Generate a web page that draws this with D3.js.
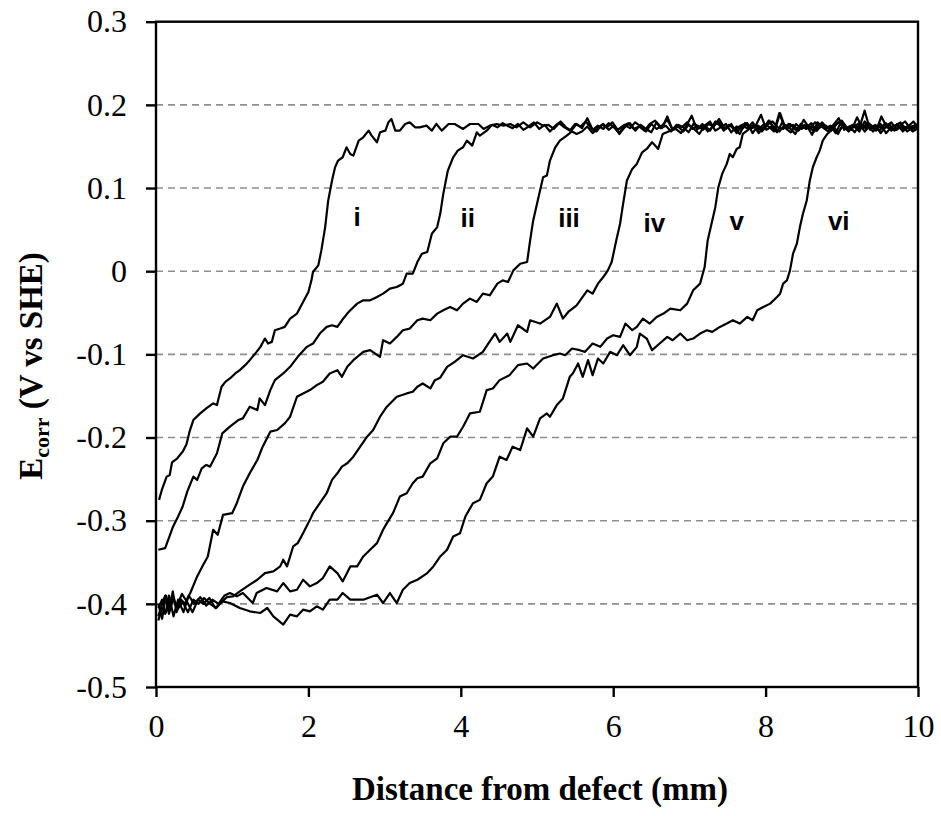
<!DOCTYPE html>
<html>
<head>
<meta charset="utf-8">
<title>Ecorr vs distance from defect</title>
<style>
  body { margin: 0; background: #fff; }
  svg { display: block; }
</style>
</head>
<body>
<svg width="941" height="816"></svg>
<script src="https://cdn.jsdelivr.net/npm/d3@7"></script>
<script>
// ticks
const xTicks = [0, 2, 4, 6, 8, 10]
const yTicks = [0.3, 0.2, 0.1, 0, -0.1, -0.2, -0.3, -0.4, -0.5]
const gridValues = [0.2, 0.1, 0, -0.1, -0.2, -0.3, -0.4]

// curve labels
const labelNames = ["i", "ii", "iii", "iv", "v", "vi"]
const labelX = [2.64, 4.09, 5.42, 6.54, 7.62, 8.96]
const labelY = [0.054, 0.053, 0.053, 0.047, 0.049, 0.050]

// rising part of each scan: [distance (mm), Ecorr (V)]
const riseI = [[0.04,-0.275],[0.08,-0.262],[0.14,-0.247],[0.18,-0.245],[0.21,-0.230],[0.28,-0.225],[0.35,-0.217],[0.40,-0.208],[0.44,-0.193],[0.49,-0.179],[0.58,-0.171],[0.66,-0.165],[0.75,-0.159],[0.80,-0.161],[0.86,-0.139],[0.91,-0.133],[0.97,-0.129],[1.04,-0.123],[1.10,-0.119],[1.17,-0.113],[1.23,-0.107],[1.32,-0.097],[1.37,-0.091],[1.43,-0.081],[1.47,-0.087],[1.52,-0.085],[1.56,-0.071],[1.63,-0.069],[1.69,-0.067],[1.76,-0.057],[1.85,-0.051],[1.93,-0.037],[2.00,-0.025],[2.04,-0.011],[2.06,-0.001],[2.13,0.007],[2.17,0.025],[2.22,0.053],[2.26,0.085],[2.31,0.109],[2.35,0.125],[2.39,0.133],[2.45,0.137],[2.50,0.149],[2.55,0.141],[2.59,0.139],[2.66,0.157],[2.72,0.161],[2.79,0.169],[2.83,0.163],[2.90,0.155],[2.94,0.167],[3.01,0.169],[3.05,0.179],[3.09,0.183],[3.14,0.169],[3.20,0.169],[3.27,0.177],[3.33,0.179],[3.40,0.173],[3.46,0.173],[3.55,0.175],[3.62,0.169],[3.68,0.177],[3.75,0.169],[3.84,0.177],[3.92,0.177],[4.03,0.171],[4.12,0.177],[4.23,0.177],[4.30,0.171],[4.38,0.175],[4.47,0.177],[4.56,0.175],[4.65,0.177],[4.73,0.173],[4.82,0.179],[4.91,0.173],[5.00,0.179],[5.08,0.175]]
const riseII = [[0.03,-0.335],[0.12,-0.333],[0.16,-0.323],[0.22,-0.308],[0.29,-0.295],[0.35,-0.283],[0.41,-0.265],[0.49,-0.247],[0.54,-0.251],[0.60,-0.237],[0.66,-0.233],[0.71,-0.235],[0.80,-0.219],[0.87,-0.195],[0.97,-0.187],[1.08,-0.179],[1.14,-0.177],[1.23,-0.163],[1.33,-0.167],[1.36,-0.153],[1.43,-0.161],[1.50,-0.143],[1.56,-0.131],[1.67,-0.123],[1.76,-0.115],[1.86,-0.103],[1.98,-0.091],[2.06,-0.087],[2.15,-0.075],[2.24,-0.067],[2.31,-0.065],[2.38,-0.067],[2.44,-0.059],[2.51,-0.051],[2.55,-0.047],[2.64,-0.039],[2.72,-0.035],[2.81,-0.035],[2.90,-0.031],[2.98,-0.027],[3.07,-0.021],[3.16,-0.019],[3.24,-0.015],[3.29,-0.003],[3.37,-0.003],[3.43,0.011],[3.49,0.021],[3.56,0.023],[3.62,0.045],[3.69,0.053],[3.73,0.069],[3.77,0.093],[3.83,0.121],[3.90,0.137],[3.96,0.145],[4.03,0.149],[4.08,0.157],[4.15,0.151],[4.21,0.167],[4.25,0.163],[4.34,0.169],[4.41,0.176],[4.48,0.173],[4.55,0.178],[4.61,0.175]]
const riseIII = [[0.03,-0.400],[0.08,-0.418],[0.13,-0.390],[0.18,-0.405],[0.22,-0.385],[0.27,-0.410],[0.33,-0.395],[0.38,-0.400],[0.42,-0.392],[0.45,-0.387],[0.54,-0.367],[0.62,-0.353],[0.68,-0.343],[0.75,-0.311],[0.81,-0.317],[0.88,-0.293],[1.00,-0.291],[1.06,-0.279],[1.14,-0.259],[1.23,-0.243],[1.33,-0.227],[1.40,-0.211],[1.50,-0.193],[1.59,-0.191],[1.69,-0.183],[1.76,-0.175],[1.85,-0.151],[1.93,-0.147],[2.02,-0.143],[2.11,-0.137],[2.19,-0.133],[2.28,-0.123],[2.38,-0.119],[2.44,-0.127],[2.51,-0.115],[2.59,-0.107],[2.72,-0.097],[2.81,-0.095],[2.94,-0.103],[2.98,-0.083],[3.07,-0.087],[3.16,-0.079],[3.24,-0.071],[3.33,-0.069],[3.43,-0.059],[3.50,-0.057],[3.60,-0.059],[3.69,-0.051],[3.77,-0.047],[3.86,-0.043],[3.95,-0.047],[4.03,-0.039],[4.12,-0.033],[4.21,-0.037],[4.29,-0.027],[4.38,-0.029],[4.48,-0.015],[4.55,-0.011],[4.62,-0.013],[4.69,0.001],[4.78,0.009],[4.87,0.011],[4.91,0.037],[4.95,0.061],[5.01,0.085],[5.08,0.113],[5.13,0.115],[5.17,0.133],[5.24,0.149],[5.30,0.157],[5.39,0.163],[5.46,0.168],[5.52,0.165]]
const riseIV = [[0.03,-0.415],[0.08,-0.400],[0.12,-0.390],[0.17,-0.412],[0.22,-0.395],[0.28,-0.402],[0.34,-0.388],[0.41,-0.398],[0.48,-0.410],[0.55,-0.395],[0.62,-0.400],[0.70,-0.393],[0.78,-0.405],[0.86,-0.398],[0.93,-0.392],[1.01,-0.391],[1.10,-0.385],[1.23,-0.377],[1.33,-0.371],[1.43,-0.363],[1.54,-0.361],[1.63,-0.355],[1.67,-0.347],[1.72,-0.355],[1.80,-0.331],[1.86,-0.327],[1.93,-0.315],[2.02,-0.299],[2.06,-0.291],[2.15,-0.279],[2.24,-0.267],[2.31,-0.251],[2.38,-0.243],[2.44,-0.235],[2.51,-0.231],[2.59,-0.223],[2.68,-0.211],[2.77,-0.199],[2.85,-0.191],[2.94,-0.175],[3.03,-0.163],[3.16,-0.151],[3.29,-0.147],[3.37,-0.145],[3.43,-0.139],[3.50,-0.135],[3.60,-0.141],[3.66,-0.131],[3.73,-0.128],[3.82,-0.115],[3.92,-0.109],[4.03,-0.101],[4.16,-0.105],[4.29,-0.097],[4.36,-0.087],[4.45,-0.075],[4.51,-0.085],[4.61,-0.075],[4.65,-0.085],[4.75,-0.065],[4.87,-0.073],[4.91,-0.059],[5.04,-0.063],[5.17,-0.055],[5.26,-0.039],[5.34,-0.057],[5.41,-0.049],[5.52,-0.041],[5.66,-0.023],[5.73,-0.027],[5.80,-0.015],[5.87,-0.007],[5.93,0.001],[5.98,0.011],[6.04,0.037],[6.09,0.057],[6.13,0.081],[6.18,0.109],[6.25,0.123],[6.31,0.129],[6.38,0.143],[6.44,0.147],[6.51,0.155],[6.55,0.151],[6.59,0.147],[6.65,0.165],[6.75,0.169]]
const riseV = [[0.03,-0.420],[0.08,-0.405],[0.13,-0.410],[0.17,-0.390],[0.23,-0.415],[0.29,-0.395],[0.36,-0.410],[0.43,-0.390],[0.50,-0.400],[0.58,-0.392],[0.66,-0.402],[0.74,-0.395],[0.82,-0.400],[0.90,-0.390],[0.97,-0.387],[1.06,-0.391],[1.14,-0.387],[1.27,-0.399],[1.32,-0.387],[1.45,-0.381],[1.59,-0.385],[1.67,-0.375],[1.76,-0.385],[1.85,-0.383],[1.93,-0.371],[2.02,-0.379],[2.11,-0.375],[2.19,-0.369],[2.28,-0.355],[2.38,-0.363],[2.45,-0.373],[2.55,-0.355],[2.64,-0.355],[2.72,-0.343],[2.81,-0.335],[2.90,-0.327],[2.98,-0.311],[3.03,-0.303],[3.11,-0.291],[3.20,-0.271],[3.29,-0.267],[3.37,-0.255],[3.43,-0.249],[3.50,-0.247],[3.60,-0.231],[3.69,-0.225],[3.77,-0.207],[3.86,-0.199],[3.95,-0.199],[4.03,-0.187],[4.12,-0.171],[4.25,-0.169],[4.34,-0.143],[4.42,-0.141],[4.51,-0.131],[4.64,-0.125],[4.75,-0.113],[4.87,-0.111],[4.95,-0.117],[5.08,-0.105],[5.21,-0.101],[5.30,-0.099],[5.37,-0.101],[5.46,-0.093],[5.56,-0.095],[5.63,-0.097],[5.73,-0.087],[5.83,-0.091],[5.92,-0.081],[6.00,-0.077],[6.09,-0.079],[6.16,-0.063],[6.25,-0.071],[6.31,-0.067],[6.39,-0.057],[6.48,-0.063],[6.57,-0.055],[6.66,-0.051],[6.75,-0.045],[6.88,-0.047],[6.97,-0.039],[7.05,-0.023],[7.14,-0.015],[7.20,0.005],[7.24,0.037],[7.30,0.061],[7.34,0.077],[7.38,0.101],[7.43,0.117],[7.49,0.129],[7.53,0.141],[7.57,0.137],[7.62,0.147],[7.66,0.149],[7.70,0.165]]
const riseVI = [[0.03,-0.405],[0.08,-0.395],[0.12,-0.412],[0.17,-0.400],[0.22,-0.390],[0.28,-0.407],[0.35,-0.398],[0.42,-0.410],[0.49,-0.395],[0.56,-0.400],[0.63,-0.393],[0.71,-0.400],[0.79,-0.405],[0.87,-0.397],[0.97,-0.399],[1.10,-0.405],[1.23,-0.409],[1.37,-0.411],[1.46,-0.405],[1.54,-0.415],[1.67,-0.425],[1.76,-0.413],[1.85,-0.415],[1.93,-0.407],[2.02,-0.409],[2.11,-0.403],[2.19,-0.407],[2.28,-0.395],[2.38,-0.395],[2.45,-0.387],[2.55,-0.395],[2.72,-0.395],[2.90,-0.389],[2.98,-0.399],[3.07,-0.387],[3.16,-0.399],[3.24,-0.383],[3.33,-0.375],[3.43,-0.371],[3.56,-0.363],[3.64,-0.355],[3.73,-0.343],[3.82,-0.335],[3.90,-0.319],[3.99,-0.315],[4.06,-0.295],[4.16,-0.279],[4.25,-0.275],[4.34,-0.255],[4.42,-0.247],[4.51,-0.223],[4.60,-0.227],[4.68,-0.211],[4.78,-0.215],[4.87,-0.189],[4.95,-0.199],[5.04,-0.177],[5.13,-0.171],[5.17,-0.175],[5.26,-0.161],[5.34,-0.153],[5.43,-0.127],[5.47,-0.123],[5.54,-0.111],[5.60,-0.127],[5.67,-0.107],[5.73,-0.125],[5.80,-0.105],[5.87,-0.111],[5.96,-0.097],[6.05,-0.101],[6.13,-0.089],[6.22,-0.101],[6.31,-0.091],[6.35,-0.075],[6.44,-0.081],[6.51,-0.095],[6.61,-0.087],[6.71,-0.079],[6.78,-0.083],[6.88,-0.075],[6.97,-0.083],[7.05,-0.081],[7.14,-0.075],[7.23,-0.071],[7.30,-0.073],[7.40,-0.067],[7.49,-0.063],[7.57,-0.059],[7.66,-0.063],[7.76,-0.055],[7.83,-0.059],[7.89,-0.047],[7.97,-0.043],[8.06,-0.039],[8.15,-0.031],[8.19,-0.027],[8.23,-0.015],[8.28,-0.011],[8.32,0.001],[8.36,0.021],[8.41,0.033],[8.45,0.053],[8.49,0.069],[8.54,0.085],[8.58,0.109],[8.62,0.125],[8.67,0.137],[8.71,0.145],[8.75,0.157],[8.81,0.165]]

// plateau readings, sampled every 0.07 mm from plateauStart
const plateauStart = [5.15, 4.68, 5.59, 6.82, 7.77, 8.88]
const plateauStep = 0.07
const plateauI = [0.176,0.171,0.178,0.173,0.169,0.177,0.174,0.180,0.172,0.168,0.176,0.173,0.179,0.170,0.175,0.178,0.171,0.174,0.169,0.177,0.181,0.172,0.175,0.168,0.176,0.173,0.179,0.171,0.175,0.170,0.177,0.174,0.183,0.172,0.176,0.169,0.175,0.178,0.172,0.174,0.168,0.176,0.180,0.173,0.171,0.177,0.174,0.170,0.176,0.172,0.179,0.173,0.175,0.169,0.177,0.181,0.172,0.176,0.170,0.174,0.178,0.173,0.169,0.176,0.172,0.175,0.179,0.171,0.174,0.176]
const plateauII = [0.172,0.177,0.170,0.174,0.179,0.171,0.176,0.168,0.175,0.180,0.173,0.169,0.177,0.172,0.184,0.170,0.175,0.171,0.178,0.173,0.166,0.176,0.172,0.179,0.174,0.168,0.177,0.171,0.175,0.182,0.170,0.176,0.173,0.167,0.178,0.172,0.175,0.169,0.180,0.174,0.171,0.177,0.166,0.175,0.172,0.179,0.170,0.176,0.174,0.168,0.190,0.173,0.177,0.170,0.175,0.172,0.178,0.169,0.176,0.173,0.171,0.179,0.174,0.168,0.176,0.172,0.193,0.170,0.175,0.173,0.178,0.169,0.176,0.172,0.174,0.171,0.175]
const plateauIII = [0.168,0.174,0.166,0.172,0.177,0.170,0.175,0.165,0.173,0.178,0.169,0.176,0.171,0.167,0.179,0.172,0.186,0.170,0.174,0.168,0.176,0.171,0.165,0.175,0.180,0.169,0.173,0.177,0.167,0.174,0.171,0.178,0.166,0.175,0.170,0.181,0.173,0.168,0.176,0.172,0.165,0.177,0.171,0.174,0.169,0.179,0.172,0.175,0.167,0.176,0.170,0.174,0.178,0.168,0.175,0.171,0.177,0.166,0.173,0.176,0.170,0.174,0.168,0.172]
const plateauIV = [0.171,0.166,0.175,0.187,0.170,0.177,0.168,0.174,0.180,0.169,0.176,0.172,0.165,0.178,0.171,0.175,0.188,0.170,0.174,0.167,0.179,0.172,0.176,0.169,0.182,0.173,0.168,0.177,0.171,0.175,0.166,0.179,0.173,0.170,0.185,0.172,0.176,0.168,0.174,0.171,0.177,0.169,0.175,0.180,0.172,0.174]
const plateauV = [0.170,0.176,0.166,0.174,0.181,0.169,0.190,0.172,0.167,0.177,0.171,0.175,0.164,0.179,0.173,0.168,0.176,0.184,0.170,0.174,0.167,0.178,0.172,0.175,0.169,0.186,0.173,0.170,0.177,0.168,0.174,0.180,0.171]
const plateauVI = [0.171,0.165,0.177,0.170,0.175,0.168,0.180,0.172,0.176,0.166,0.174,0.179,0.170,0.175,0.168,0.173,0.177]

const rises = [riseI, riseII, riseIII, riseIV, riseV, riseVI]
const plateaus = [plateauI, plateauII, plateauIII, plateauIV, plateauV, plateauVI]
const series = rises.map((r, k) =>
  r.concat(plateaus[k].map((v, j) => [plateauStart[k] + j * plateauStep, v])))

const serif = "'Liberation Serif', 'Times New Roman', serif"
const sans = "'Liberation Sans', Arial, sans-serif"

const svg = d3.select("svg")

// scales
const x = d3.scaleLinear().domain([0, 10]).range([156, 918])
const y = d3.scaleLinear().domain([-0.5, 0.3]).range([687, 21.7])

// dashed gridlines
svg.append("g").attr("id", "grid")
  .selectAll("line").data(gridValues).join("line")
    .attr("x1", x(0)).attr("x2", x(10))
    .attr("y1", d => y(d)).attr("y2", d => y(d))
    .attr("stroke", "#8f8f8f").attr("stroke-width", 1.6)
    .attr("stroke-dasharray", "7,5")

// clip curves to the plot box
svg.append("clipPath").attr("id", "clip")
  .append("rect")
    .attr("x", x(0)).attr("y", y(0.3))
    .attr("width", x(10) - x(0)).attr("height", y(-0.5) - y(0.3))

const line = d3.line().x(d => x(d[0])).y(d => y(d[1]))

svg.append("g").attr("id", "curves").attr("clip-path", "url(#clip)")
  .selectAll("path").data(series).join("path")
    .attr("fill", "none").attr("stroke", "#000")
    .attr("stroke-width", 2.2).attr("stroke-linejoin", "round")
    .attr("d", line)

// plot box
svg.append("rect")
  .attr("x", x(0)).attr("y", y(0.3))
  .attr("width", x(10) - x(0)).attr("height", y(-0.5) - y(0.3))
  .attr("fill", "none").attr("stroke", "#000").attr("stroke-width", 2.4)

// axes
const xAxis = svg.append("g").attr("transform", `translate(0,${y(-0.5)})`)
  .call(d3.axisBottom(x).tickValues(xTicks).tickSize(10).tickPadding(17)
    .tickFormat(d3.format("d")))
const yAxis = svg.append("g").attr("transform", `translate(${x(0)},0)`)
  .call(d3.axisLeft(y).tickValues(yTicks).tickSize(10).tickPadding(19)
    .tickFormat(d => d === 0 ? "0" : d.toFixed(1)))

for (const ax of [xAxis, yAxis]) {
  ax.select(".domain").remove()
  ax.selectAll("line").attr("stroke", "#000").attr("stroke-width", 2.4)
  ax.selectAll("text").attr("font-family", serif).attr("font-size", 32).attr("fill", "#000")
}

// curve labels
svg.append("g").attr("id", "labels")
  .selectAll("text").data(labelNames).join("text")
    .attr("x", (d, i) => x(labelX[i])).attr("y", (d, i) => y(labelY[i]))
    .attr("text-anchor", "middle")
    .attr("font-family", sans).attr("font-weight", "bold").attr("font-size", 26)
    .text(d => d)

// axis titles
svg.append("text")
  .attr("x", 540).attr("y", 800)
  .attr("text-anchor", "middle")
  .attr("font-family", serif).attr("font-weight", "bold").attr("font-size", 33)
  .text("Distance from defect (mm)")

const yTitle = svg.append("text")
  .attr("transform", "translate(42,366) rotate(-90)")
  .attr("text-anchor", "middle")
  .attr("font-family", serif).attr("font-weight", "bold").attr("font-size", 33)
yTitle.append("tspan").text("E")
yTitle.append("tspan").attr("font-size", 22).attr("dy", 7).text("corr")
yTitle.append("tspan").attr("dy", -7).text(" (V vs SHE)")
</script>
</body>
</html>
